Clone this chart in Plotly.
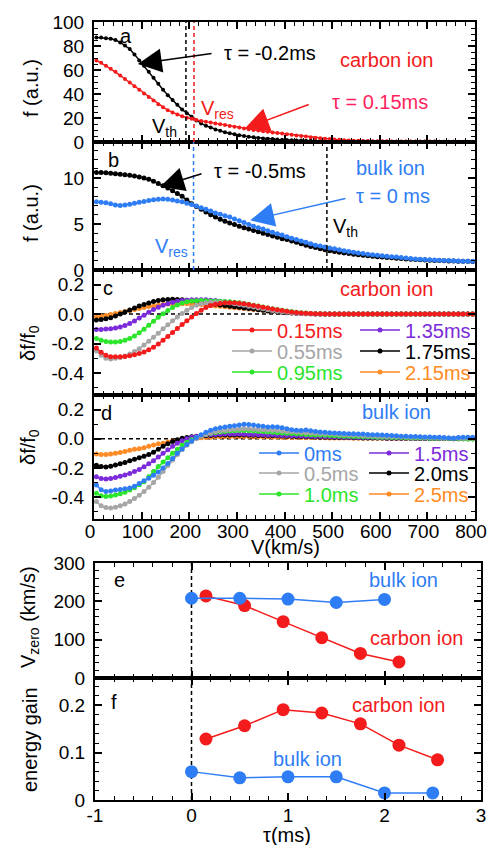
import plotly.graph_objects as go

FONT = "Liberation Sans, Arial, Helvetica, sans-serif"
W, H = 489, 845

RED = "#f31b1b"
PINK = "#ff1f5e"
BLUE = "#2f7df5"
GREEN = "#2be52b"
PURPLE = "#7b2bd9"
GRAY = "#a6a6a6"
ORANGE = "#ff8b25"
BLACK = "#000000"

# ---------------- data ----------------
v_kms = list(range(5, 800, 10))  # velocity bins (km/s)

# panel a : carbon ion distribution
a_tau_m02 = [87, 87, 86.5, 86, 85, 83, 80.5, 77.5, 73, 68,
             63.5, 58.5, 53.5, 48.5, 43.5, 39, 35, 31, 27, 24,
             21, 18, 15.5, 13.5, 12, 10.5, 9.3, 8.2, 7.3, 6.5,
             5.7, 5, 4.4, 3.9, 3.4, 3.0, 2.7, 2.4, 2.1, 1.9,
             1.7, 1.5, 1.35, 1.2, 1.1, 1.0, 0.9, 0.8, 0.7, 0.65,
             0.6, 0.55, 0.5, 0.45, 0.4, 0.38, 0.35, 0.33, 0.3, 0.28,
             0.26, 0.25, 0.24, 0.22, 0.21, 0.2, 0.19, 0.18, 0.17, 0.16,
             0.15, 0.14, 0.13, 0.12, 0.12, 0.11, 0.1, 0.1, 0.09, 0.09]
a_tau_015 = [68, 66, 63.5, 61, 58.5, 55.5, 52.5, 49.5, 46.5, 43.5,
             40.5, 37.5, 34.5, 31.5, 29, 26.5, 24.5, 23, 21.5, 20.3,
             19.3, 18.4, 17.6, 16.9, 16.2, 15.5, 14.8, 14.1, 13.4, 12.7,
             12.0, 11.3, 10.7, 10.1, 9.5, 9.0, 8.5, 8.0, 7.5, 7.0,
             6.5, 6.0, 5.5, 5.0, 4.5, 4.0, 3.6, 3.2, 2.8, 2.4,
             2.1, 1.8, 1.5, 1.3, 1.1, 1.0, 0.9, 0.8, 0.7, 0.65,
             0.6, 0.55, 0.5, 0.5, 0.45, 0.45, 0.4, 0.4, 0.4, 0.35,
             0.35, 0.35, 0.3, 0.3, 0.3, 0.3, 0.3, 0.3, 0.3, 0.3]

# panel b : bulk ion distribution
b_tau_m05 = [10.6, 10.6, 10.55, 10.5, 10.45, 10.4, 10.35, 10.3, 10.2, 10.1,
             10.0, 9.85, 9.65, 9.4, 9.15, 8.9, 8.6, 8.3, 8.0, 7.6,
             7.2, 6.9, 6.6, 6.3, 6.0, 5.75, 5.5, 5.3, 5.1, 4.95,
             4.75, 4.6, 4.45, 4.3, 4.15, 4.0, 3.85, 3.7, 3.55, 3.4,
             3.3, 3.15, 3.0, 2.85, 2.7, 2.55, 2.45, 2.3, 2.2, 2.1,
             2.0, 1.92, 1.85, 1.78, 1.72, 1.66, 1.6, 1.55, 1.5, 1.45,
             1.4, 1.36, 1.32, 1.28, 1.24, 1.2, 1.17, 1.14, 1.11, 1.08,
             1.06, 1.04, 1.02, 1.0, 0.98, 0.97, 0.96, 0.95, 0.94, 0.93]
b_tau_0 = [7.4, 7.35, 7.3, 7.2, 7.05, 7.0, 7.05, 7.15, 7.25, 7.35,
           7.45, 7.55, 7.62, 7.68, 7.7, 7.68, 7.6, 7.5, 7.4, 7.25,
           7.1, 6.95, 6.75, 6.6, 6.4, 6.2, 6.05, 5.9, 5.75, 5.55,
           5.35, 5.15, 4.95, 4.75, 4.6, 4.45, 4.25, 4.1, 3.95, 3.8,
           3.6, 3.45, 3.3, 3.15, 3.0, 2.85, 2.7, 2.6, 2.5, 2.4,
           2.3, 2.2, 2.1, 2.0, 1.92, 1.84, 1.78, 1.72, 1.66, 1.6,
           1.55, 1.5, 1.45, 1.4, 1.35, 1.3, 1.25, 1.2, 1.17, 1.14,
           1.11, 1.08, 1.06, 1.04, 1.02, 1.0, 0.98, 0.96, 0.95, 0.94]

# panel c : carbon ion df/f0
c_015 = [-0.23, -0.26, -0.28, -0.29, -0.29, -0.29, -0.288, -0.283, -0.277, -0.268,
         -0.257, -0.243, -0.225, -0.203, -0.178, -0.152, -0.125, -0.098, -0.071, -0.045,
         -0.02, 0.005, 0.027, 0.045, 0.058, 0.067, 0.073, 0.077, 0.078, 0.077,
         0.074, 0.07, 0.065, 0.059, 0.053, 0.047, 0.041, 0.035, 0.029, 0.024,
         0.019, 0.015, 0.011, 0.008, 0.006, 0.004, 0.003, 0.002, 0.001, 0.001,
         0, 0, 0, 0, 0, 0, 0, 0, 0, 0,
         0, 0, 0, 0, 0, 0, 0, 0, 0, 0,
         0, 0, 0, 0, 0, 0, 0, 0, 0, 0]
c_055 = [-0.25, -0.28, -0.3, -0.305, -0.3, -0.295, -0.285, -0.272, -0.255, -0.235,
         -0.21, -0.185, -0.158, -0.13, -0.1, -0.072, -0.045, -0.02, 0.005, 0.027,
         0.045, 0.06, 0.07, 0.076, 0.08, 0.081, 0.08, 0.078, 0.075, 0.071,
         0.066, 0.06, 0.054, 0.048, 0.042, 0.036, 0.03, 0.025, 0.02, 0.016,
         0.012, 0.009, 0.007, 0.005, 0.003, 0.002, 0.001, 0.001, 0, 0,
         0, 0, 0, 0, 0, 0, 0, 0, 0, 0,
         0, 0, 0, 0, 0, 0, 0, 0, 0, 0,
         0, 0, 0, 0, 0, 0, 0, 0, 0, 0]
c_095 = [-0.165, -0.178, -0.186, -0.19, -0.19, -0.186, -0.178, -0.165, -0.148, -0.127,
         -0.103, -0.076, -0.048, -0.022, 0.003, 0.025, 0.045, 0.062, 0.075, 0.084,
         0.089, 0.091, 0.092, 0.091, 0.09, 0.089, 0.088, 0.086, 0.084, 0.081,
         0.077, 0.072, 0.067, 0.061, 0.055, 0.048, 0.042, 0.036, 0.031, 0.026,
         0.021, 0.017, 0.013, 0.01, 0.007, 0.005, 0.003, 0.002, 0.001, 0,
         0, 0, 0, 0, 0, 0, 0, 0, 0, 0,
         0, 0, 0, 0, 0, 0, 0, 0, 0, 0,
         0, 0, 0, 0, 0, 0, 0, 0, 0, 0]
c_135 = [-0.105, -0.104, -0.102, -0.099, -0.094, -0.087, -0.077, -0.063, -0.046, -0.027,
         -0.007, 0.013, 0.031, 0.047, 0.06, 0.071, 0.08, 0.087, 0.092, 0.095,
         0.097, 0.098, 0.098, 0.097, 0.095, 0.092, 0.088, 0.084, 0.08, 0.075,
         0.07, 0.064, 0.058, 0.052, 0.046, 0.04, 0.034, 0.028, 0.023, 0.018,
         0.014, 0.011, 0.008, 0.006, 0.004, 0.003, 0.002, 0.001, 0, 0,
         0, 0, 0, 0, 0, 0, 0, 0, 0, 0,
         0, 0, 0, 0, 0, 0, 0, 0, 0, 0,
         0, 0, 0, 0, 0, 0, 0, 0, 0, 0]
c_175 = [-0.04, -0.037, -0.032, -0.024, -0.013, 0.0, 0.014, 0.028, 0.042, 0.055,
         0.066, 0.076, 0.085, 0.092, 0.097, 0.1, 0.101, 0.1, 0.098, 0.095,
         0.091, 0.087, 0.082, 0.077, 0.072, 0.067, 0.062, 0.058, 0.054, 0.05,
         0.046, 0.042, 0.038, 0.034, 0.03, 0.026, 0.022, 0.019, 0.016, 0.013,
         0.01, 0.008, 0.006, 0.004, 0.003, 0.002, 0.001, 0, 0, 0,
         0, 0, 0, 0, 0, 0, 0, 0, 0, 0,
         0, 0, 0, 0, 0, 0, 0, 0, 0, 0,
         0, 0, 0, 0, 0, 0, 0, 0, 0, 0]
c_215 = [-0.02, -0.015, -0.009, -0.003, 0.004, 0.011, 0.018, 0.025, 0.032, 0.039,
         0.045, 0.051, 0.056, 0.061, 0.065, 0.068, 0.07, 0.071, 0.071, 0.07,
         0.069, 0.067, 0.065, 0.062, 0.059, 0.056, 0.053, 0.05, 0.047, 0.044,
         0.041, 0.038, 0.035, 0.032, 0.029, 0.026, 0.023, 0.02, 0.017, 0.015,
         0.012, 0.01, 0.008, 0.006, 0.004, 0.003, 0.002, 0.001, 0, 0,
         0, 0, 0, 0, 0, 0, 0, 0, 0, 0,
         0, 0, 0, 0, 0, 0, 0, 0, 0, 0,
         0, 0, 0, 0, 0, 0, 0, 0, 0, 0]

# panel d : bulk ion df/f0
d_00 = [-0.317, -0.35, -0.362, -0.358, -0.352, -0.347, -0.342, -0.337, -0.325, -0.307,
        -0.288, -0.27, -0.25, -0.228, -0.2, -0.17, -0.135, -0.1, -0.07, -0.04,
        -0.015, 0.008, 0.028, 0.045, 0.058, 0.068, 0.075, 0.08, 0.085, 0.09,
        0.095, 0.1, 0.098, 0.094, 0.09, 0.085, 0.08, 0.082, 0.08, 0.075,
        0.068, 0.062, 0.058, 0.056, 0.06, 0.055, 0.05, 0.046, 0.044, 0.042,
        0.04, 0.038, 0.036, 0.035, 0.034, 0.033, 0.032, 0.03, 0.028, 0.027,
        0.026, 0.024, 0.022, 0.02, 0.018, 0.018, 0.016, 0.015, 0.014, 0.012,
        0.012, 0.01, 0.01, 0.008, 0.005, 0.004, 0.008, 0.01, 0.01, 0.01]
d_05 = [-0.43, -0.46, -0.472, -0.475, -0.47, -0.46, -0.447, -0.43, -0.41, -0.388,
        -0.362, -0.333, -0.3, -0.263, -0.224, -0.184, -0.145, -0.108, -0.074, -0.045,
        -0.02, 0.0, 0.017, 0.03, 0.04, 0.048, 0.054, 0.058, 0.062, 0.065,
        0.067, 0.068, 0.068, 0.066, 0.064, 0.062, 0.06, 0.058, 0.056, 0.054,
        0.05, 0.048, 0.046, 0.044, 0.042, 0.04, 0.038, 0.036, 0.035, 0.034,
        0.032, 0.03, 0.028, 0.026, 0.025, 0.024, 0.022, 0.02, 0.019, 0.018,
        0.017, 0.016, 0.015, 0.014, 0.013, 0.012, 0.011, 0.01, 0.01, 0.009,
        0.008, 0.008, 0.007, 0.006, 0.006, 0.005, 0.005, 0.004, 0.004, 0.004]
d_10 = [-0.373, -0.39, -0.396, -0.392, -0.385, -0.377, -0.366, -0.352, -0.335, -0.315,
        -0.295, -0.26, -0.225, -0.19, -0.16, -0.13, -0.1, -0.072, -0.045, -0.024,
        -0.006, 0.008, 0.02, 0.03, 0.037, 0.043, 0.047, 0.05, 0.053, 0.055,
        0.056, 0.056, 0.055, 0.053, 0.051, 0.049, 0.046, 0.044, 0.042, 0.04,
        0.038, 0.036, 0.034, 0.032, 0.03, 0.028, 0.026, 0.025, 0.024, 0.022,
        0.02, 0.019, 0.018, 0.017, 0.016, 0.015, 0.014, 0.013, 0.012, 0.011,
        0.01, 0.01, 0.009, 0.008, 0.008, 0.007, 0.006, 0.006, 0.005, 0.005,
        0.004, 0.004, 0.003, 0.003, 0.002, 0.002, 0.001, 0.0, -0.002, -0.002]
d_15 = [-0.26, -0.272, -0.276, -0.272, -0.265, -0.257, -0.248, -0.238, -0.225, -0.21,
        -0.192, -0.172, -0.15, -0.125, -0.1, -0.076, -0.052, -0.031, -0.013, 0.0,
        0.01, 0.017, 0.022, 0.026, 0.028, 0.03, 0.031, 0.032, 0.032, 0.032,
        0.032, 0.031, 0.03, 0.029, 0.028, 0.027, 0.026, 0.025, 0.024, 0.023,
        0.022, 0.021, 0.02, 0.019, 0.018, 0.017, 0.016, 0.015, 0.014, 0.013,
        0.012, 0.012, 0.011, 0.01, 0.01, 0.009, 0.009, 0.008, 0.008, 0.007,
        0.007, 0.006, 0.006, 0.005, 0.005, 0.005, 0.004, 0.004, 0.004, 0.003,
        0.003, 0.003, 0.002, 0.002, 0.002, 0.002, 0.001, 0.001, 0.001, 0.001]
d_20 = [-0.181, -0.19, -0.193, -0.188, -0.18, -0.172, -0.162, -0.15, -0.14, -0.13,
        -0.12, -0.108, -0.092, -0.072, -0.052, -0.034, -0.018, -0.006, 0.003, 0.009,
        0.013, 0.016, 0.019, 0.021, 0.023, 0.024, 0.025, 0.025, 0.025, 0.025,
        0.025, 0.025, 0.024, 0.024, 0.023, 0.023, 0.022, 0.021, 0.02, 0.019,
        0.018, 0.017, 0.016, 0.015, 0.014, 0.013, 0.012, 0.011, 0.01, 0.01,
        0.009, 0.009, 0.008, 0.008, 0.007, 0.007, 0.006, 0.006, 0.005, 0.005,
        0.005, 0.004, 0.004, 0.004, 0.003, 0.003, 0.003, 0.002, 0.002, 0.002,
        0.002, 0.001, 0.001, 0.001, 0.001, 0.0, 0.0, 0.0, 0.0, 0.0]
d_25 = [-0.105, -0.108, -0.108, -0.105, -0.1, -0.094, -0.087, -0.078, -0.072, -0.068,
        -0.062, -0.052, -0.042, -0.035, -0.03, -0.022, -0.015, -0.01, -0.006, -0.002,
        0.001, 0.004, 0.007, 0.009, 0.011, 0.013, 0.014, 0.015, 0.015, 0.015,
        0.015, 0.015, 0.015, 0.014, 0.014, 0.013, 0.013, 0.012, 0.012, 0.011,
        0.011, 0.01, 0.01, 0.009, 0.009, 0.008, 0.008, 0.007, 0.007, 0.006,
        0.006, 0.005, 0.005, 0.005, 0.004, 0.004, 0.004, 0.003, 0.003, 0.003,
        0.003, 0.002, 0.002, 0.002, 0.002, 0.002, 0.001, 0.001, 0.001, 0.001,
        0.001, 0.001, 0.0, 0.0, 0.0, 0.0, 0.0, 0.0, 0.0, 0.0]

# panel e : zero-crossing velocity
tau_bulk_e = [0, 0.5, 1.0, 1.5, 2.0]
vzero_bulk = [208, 208, 206, 197, 205]
tau_carbon_e = [0.15, 0.55, 0.95, 1.35, 1.75, 2.15]
vzero_carbon = [214, 189, 147, 105, 64, 42]

# panel f : energy gain
tau_carbon_f = [0.15, 0.55, 0.95, 1.35, 1.75, 2.15, 2.55]
gain_carbon = [0.129, 0.157, 0.191, 0.184, 0.161, 0.116, 0.085]
tau_bulk_f = [0, 0.5, 1.0, 1.5, 2.0, 2.5]
gain_bulk = [0.06, 0.047, 0.049, 0.049, 0.015, 0.015]

# reference velocities
v_th_a, v_res_a = 193, 210
v_res_b, v_th_b = 209, 489

# tick labels
v_ticks = [0, 100, 200, 300, 400, 500, 600, 700, 800]
v_ticktext = ["0", "100", "200", "300", "400", "500", "600", "700", "800"]
df_ticks = [-0.4, -0.2, 0.0, 0.2]
df_ticktext = ["-0.4", "-0.2", "0.0", "0.2"]
tau_ticks = [-1, 0, 1, 2, 3]
tau_ticktext = ["-1", "0", "1", "2", "3"]

for arr in [a_tau_m02, a_tau_015, b_tau_m05, b_tau_0, c_015, c_055, c_095, c_135,
            c_175, c_215, d_00, d_05, d_10, d_15, d_20, d_25]:
    assert len(arr) == len(v_kms), len(arr)

# ---------------- layout helpers ----------------
def xdom(l, r):
    return [l / W, r / W]


def ydom(t, b):
    return [1 - b / H, 1 - t / H]


XT = xdom(94, 475)
XB = xdom(95, 481)
DOM = {1: ydom(22, 142), 2: ydom(142, 270), 3: ydom(270, 395),
       4: ydom(395, 519), 5: ydom(563, 678), 6: ydom(678, 800)}

tickfont = dict(family=FONT, size=19, color="black")


def axis_common(**kw):
    d = dict(showline=True, linewidth=2, linecolor="black", mirror="ticks",
             ticks="inside", ticklen=7, tickwidth=1.5, tickcolor="black",
             showgrid=False, zeroline=False, tickfont=tickfont,
             ticklabelstandoff=4, ticklabeloverflow="allow", fixedrange=True)
    d.update(kw)
    return d


fig = go.Figure()


def add_curve(x, y, color, n, size=5, name=None, legend=None):
    fig.add_trace(go.Scatter(
        x=x, y=y, mode="lines+markers",
        line=dict(color=color, width=1.5),
        marker=dict(color=color, size=size),
        xaxis="x" if n == 1 else f"x{n}", yaxis="y" if n == 1 else f"y{n}",
        name=name, showlegend=legend is not None, legend=legend,
        hoverinfo="skip"))


# panel a
add_curve(v_kms, a_tau_m02, BLACK, 1, size=4)
add_curve(v_kms, a_tau_015, RED, 1, size=4)
# panel b
add_curve(v_kms, b_tau_m05, BLACK, 2, size=5)
add_curve(v_kms, b_tau_0, BLUE, 2, size=5)
# panel c (draw order: later on top)
add_curve(v_kms, c_215, ORANGE, 3, name="2.15ms", legend="legend6")
add_curve(v_kms, c_175, BLACK, 3, name="1.75ms", legend="legend5")
add_curve(v_kms, c_135, PURPLE, 3, name="1.35ms", legend="legend4")
add_curve(v_kms, c_095, GREEN, 3, name="0.95ms", legend="legend3")
add_curve(v_kms, c_055, GRAY, 3, name="0.55ms", legend="legend2")
add_curve(v_kms, c_015, RED, 3, name="0.15ms", legend="legend")
# panel d
add_curve(v_kms, d_25, ORANGE, 4, name="2.5ms", legend="legend12")
add_curve(v_kms, d_20, BLACK, 4, name="2.0ms", legend="legend11")
add_curve(v_kms, d_15, PURPLE, 4, name="1.5ms", legend="legend10")
add_curve(v_kms, d_10, GREEN, 4, name="1.0ms", legend="legend9")
add_curve(v_kms, d_05, GRAY, 4, name="0.5ms", legend="legend8")
add_curve(v_kms, d_00, BLUE, 4, name="0ms", legend="legend7")
# panel e
add_curve(tau_carbon_e, vzero_carbon, RED, 5, size=13)
add_curve(tau_bulk_e, vzero_bulk, BLUE, 5, size=13)
# panel f
add_curve(tau_carbon_f, gain_carbon, RED, 6, size=13)
add_curve(tau_bulk_f, gain_bulk, BLUE, 6, size=13)

layout = dict(
    width=W, height=H, margin=dict(l=0, r=0, t=0, b=0, autoexpand=False),
    paper_bgcolor="white", plot_bgcolor="white",
    font=dict(family=FONT, size=19, color="black"),
    showlegend=True,
)

ranges_y = {1: [0, 100], 2: [0, 13.9], 3: [-0.55, 0.3], 4: [-0.55, 0.3],
            5: [0, 300], 6: [0, 0.258]}

for n in range(1, 7):
    xk = "xaxis" if n == 1 else f"xaxis{n}"
    ya = "y" if n == 1 else f"y{n}"
    if n <= 4:
        layout[xk] = axis_common(domain=XT, anchor=ya, range=[0, 800],
                                 tickvals=v_ticks, ticktext=v_ticktext,
                                 showticklabels=(n == 4), ticklabelstandoff=-6,
                                 ticklabelshift=-4,
                                 minor=dict(dtick=20, tick0=0, ticks="inside", ticklen=4,
                                            tickwidth=1.2, tickcolor="black"))
    else:
        layout[xk] = axis_common(domain=XB, anchor=ya, range=[-1, 3],
                                 tickvals=tau_ticks, ticktext=tau_ticktext,
                                 showticklabels=(n == 6), ticklabelstandoff=-3,
                                 minor=dict(dtick=0.2, tick0=0, ticks="inside", ticklen=4,
                                            tickwidth=1.2, tickcolor="black"))

minor_y = lambda d: dict(dtick=d, tick0=0, ticks="inside", ticklen=4, tickwidth=1.2, tickcolor="black")
layout["yaxis"] = axis_common(domain=DOM[1], anchor="x", range=ranges_y[1], dtick=20, tick0=0,
                              minor=minor_y(5))
layout["yaxis2"] = axis_common(domain=DOM[2], anchor="x2", range=ranges_y[2], dtick=5, tick0=0,
                               minor=minor_y(1))
layout["yaxis3"] = axis_common(domain=DOM[3], anchor="x3", range=ranges_y[3],
                               tickvals=df_ticks, ticktext=df_ticktext, minor=minor_y(0.1))
layout["yaxis4"] = axis_common(domain=DOM[4], anchor="x4", range=ranges_y[4],
                               tickvals=df_ticks, ticktext=df_ticktext, minor=minor_y(0.1))
layout["yaxis5"] = axis_common(domain=DOM[5], anchor="x5", range=ranges_y[5], dtick=100, tick0=0,
                               minor=minor_y(20))
layout["yaxis6"] = axis_common(domain=DOM[6], anchor="x6", range=ranges_y[6], dtick=0.1, tick0=0,
                               minor=minor_y(0.02))


# legends: one per entry, placed like the reference key
def leg(xpx, ypx, color):
    return dict(x=xpx / W, y=1 - ypx / H, xanchor="left", yanchor="middle",
                bgcolor="rgba(0,0,0,0)", borderwidth=0, orientation="v",
                font=dict(family=FONT, size=20, color=color), itemwidth=40,
                itemclick=False, itemdoubleclick=False)


legend_spec = {
    "legend": (227, 330, RED), "legend2": (227, 351, GRAY), "legend3": (227, 372, GREEN),
    "legend4": (355, 330, PURPLE), "legend5": (355, 351, BLACK), "legend6": (355, 372, ORANGE),
    "legend7": (254, 453, BLUE), "legend8": (254, 473, GRAY), "legend9": (254, 494, GREEN),
    "legend10": (364, 453, PURPLE), "legend11": (364, 473, BLACK), "legend12": (364, 494, ORANGE),
}
for k, (xp, yp, col) in legend_spec.items():
    layout[k] = leg(xp, yp, col)

# reference lines
dash = "4px,3px"
shapes = [
    dict(type="line", xref="x", yref="y domain", x0=v_th_a, x1=v_th_a, y0=0, y1=1,
         line=dict(color=BLACK, width=1.5, dash=dash)),
    dict(type="line", xref="x", yref="y domain", x0=v_res_a, x1=v_res_a, y0=0, y1=1,
         line=dict(color=RED, width=1.5, dash=dash)),
    dict(type="line", xref="x2", yref="y2 domain", x0=v_res_b, x1=v_res_b, y0=0, y1=1,
         line=dict(color=BLUE, width=1.5, dash=dash)),
    dict(type="line", xref="x2", yref="y2 domain", x0=v_th_b, x1=v_th_b, y0=0, y1=1,
         line=dict(color=BLACK, width=1.5, dash=dash)),
    dict(type="line", xref="x3 domain", yref="y3", x0=0, x1=1, y0=0, y1=0,
         line=dict(color=BLACK, width=1.5, dash=dash), layer="below"),
    dict(type="line", xref="x4 domain", yref="y4", x0=0, x1=1, y0=0, y1=0,
         line=dict(color=BLACK, width=1.5, dash=dash), layer="below"),
    dict(type="line", xref="x5", yref="y5 domain", x0=0, x1=0, y0=0, y1=1,
         line=dict(color=BLACK, width=1.5, dash=dash), layer="below"),
    dict(type="line", xref="x6", yref="y6 domain", x0=0, x1=0, y0=0, y1=1,
         line=dict(color=BLACK, width=1.5, dash=dash), layer="below"),
]
layout["shapes"] = shapes

anns = []


def txt(text, x, y, n, color=BLACK, size=20, xanchor="center"):
    anns.append(dict(text=text, x=x, y=y,
                     xref="x" if n == 1 else f"x{n}", yref="y" if n == 1 else f"y{n}",
                     showarrow=False, xanchor=xanchor, yanchor="middle",
                     font=dict(family=FONT, size=size, color=color)))


def arrow(x_head, y_head, x_tail, y_tail, n, color):
    xr = "x" if n == 1 else f"x{n}"
    yr = "y" if n == 1 else f"y{n}"
    anns.append(dict(text="", x=x_head, y=y_head, ax=x_tail, ay=y_tail,
                     xref=xr, yref=yr, axref=xr, ayref=yr, showarrow=True,
                     arrowhead=2, arrowsize=3.2, arrowwidth=1.5, arrowcolor=color,
                     standoff=0, startstandoff=0))


def ptxt(text, xpx, ypx, color=BLACK, size=20, angle=0):
    anns.append(dict(text=text, x=xpx / W, y=1 - ypx / H, xref="paper", yref="paper",
                     showarrow=False, xanchor="center", yanchor="middle", textangle=angle,
                     font=dict(family=FONT, size=size, color=color)))


# panel a
txt("a", 67, 88, 1)
txt("τ = -0.2ms", 370, 74, 1)
arrow(92, 65, 250, 74, 1, BLACK)
txt("carbon ion", 615, 68, 1, RED)
txt("V<sub>res</sub>", 221, 27, 1, RED, xanchor="left")
txt("τ = 0.15ms", 601, 33.6, 1, PINK)
arrow(317, 11.4, 454, 31.7, 1, RED)
txt("V<sub>th</sub>", 147, 12.5, 1)
# panel b
txt("b", 40, 12.0, 2)
txt("τ = -0.5ms", 349, 10.7, 2)
arrow(139, 9.05, 229, 10.5, 2, BLACK)
txt("bulk ion", 622, 11.05, 2, BLUE)
txt("τ = 0 ms", 628, 8.0, 2, BLUE)
arrow(328, 5.4, 531, 7.8, 2, BLUE)
txt("V<sub>res</sub>", 163, 2.4, 2, BLUE)
txt("V<sub>th</sub>", 529, 4.6, 2)
# panel c, d
txt("c", 29, 0.18, 3)
txt("carbon ion", 615, 0.17, 3, RED)
txt("d", 27, 0.18, 4)
txt("bulk ion", 636, 0.185, 4, BLUE)
# panel e, f
txt("e", -0.75, 256, 5)
txt("bulk ion", 2.2, 256, 5, BLUE)
txt("carbon ion", 2.33, 104, 5, RED)
txt("f", -0.8, 0.207, 6)
txt("carbon ion", 2.14, 0.2, 6, RED)
txt("bulk ion", 1.2, 0.087, 6, BLUE)

# axis titles
ptxt("f (a.u.)", 31, 88, angle=-90)
ptxt("f (a.u.)", 31, 213, angle=-90)
ptxt("δf/f<sub>0</sub>", 30, 343, angle=-90)
ptxt("δf/f<sub>0</sub>", 30, 447, angle=-90)
ptxt("V(km/s)", 285, 547)
ptxt("V<sub>zero</sub> (km/s)", 29, 617, angle=-90)
ptxt("energy gain", 30, 740, angle=-90)
ptxt("τ(ms)", 287, 835)

layout["annotations"] = anns
fig.update_layout(**layout)
fig.write_html("out.html")
